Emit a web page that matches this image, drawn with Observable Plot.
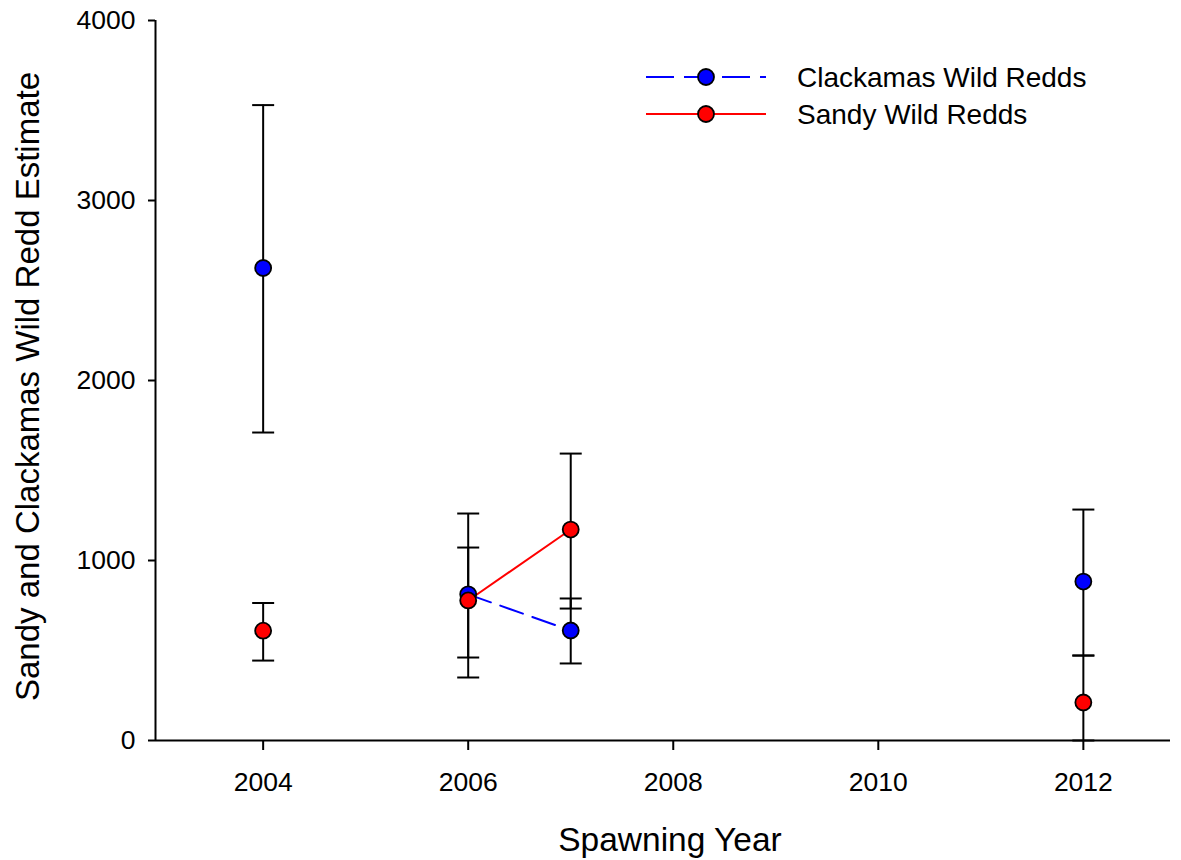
<!DOCTYPE html>
<html>
<head>
<meta charset="utf-8">
<script src="https://cdn.jsdelivr.net/npm/d3@7"></script>
<script src="https://cdn.jsdelivr.net/npm/@observablehq/plot@0.6"></script>
<style>
  html, body { margin: 0; padding: 0; background: white; }
</style>
</head>
<body>
<div id="chart"></div>
<script>
// ---- data ----
const years = [2004, 2005, 2006, 2007, 2008, 2009, 2010, 2011, 2012];
const clackamas     = [2625, null, 812, 611, null, null, null, null, 883];
const clackamasLow  = [1711, null, 350, 428, null, null, null, null, 472];
const clackamasHigh = [3530, null, 1261, 789, null, null, null, null, 1283];
const sandy         = [610, null, 778, 1172, null, null, null, null, 211];
const sandyLow      = [444, null, 461, 733, null, null, null, null, 0];
const sandyHigh     = [764, null, 1072, 1594, null, null, null, null, 472];

const seriesNames = ["Clackamas Wild Redds", "Sandy Wild Redds"];
const seriesColors = ["#0000ff", "#ff0000"];
const xTicks = [2004, 2006, 2008, 2010, 2012];
const yTicks = [0, 1000, 2000, 3000, 4000];
const xDomain = [2002.95, 2012.85];
const yDomain = [0, 4000];
const xTitle = "Spawning Year";
const yTitle = "Sandy and Clackamas Wild Redd Estimate";

function rows(vals, lows, highs, name) {
  return years.map((yr, i) => ({year: yr, value: vals[i], low: lows[i], high: highs[i], series: name}));
}
const cRows = rows(clackamas, clackamasLow, clackamasHigh, seriesNames[0]);
const sRows = rows(sandy, sandyLow, sandyHigh, seriesNames[1]);
const allRows = cRows.concat(sRows).filter(d => d.value != null);

// horizontal cap symbol for error bars
const capSymbol = {
  draw(context, size) {
    const r = Math.sqrt(size / Math.PI);
    context.moveTo(-r, 0);
    context.lineTo(r, 0);
  }
};

const font = "Arial, 'Liberation Sans', Helvetica, sans-serif";

const svg = Plot.plot({
  width: 1181,
  height: 860,
  marginLeft: 155,
  marginRight: 11,
  marginTop: 20,
  marginBottom: 120,
  style: {fontFamily: font, fontSize: "26.5px", color: "black", background: "white", overflow: "visible"},
  x: {domain: xDomain, label: null},
  y: {domain: yDomain, label: null},
  marks: [
    Plot.axisY({ticks: yTicks, tickSize: 7, tickPadding: 13, tickFormat: d => String(d), label: null, strokeWidth: 2, fontSize: 26.5}),
    Plot.axisX({ticks: xTicks, tickSize: 10, tickPadding: 22, tickFormat: d => String(d), label: null, strokeWidth: 2, fontSize: 26.5}),
    Plot.ruleY([yDomain[0]], {stroke: "black", strokeWidth: 2}),
    Plot.ruleX([xDomain[0]], {stroke: "black", strokeWidth: 2}),
    // error bars
    Plot.ruleX(allRows, {x: "year", y1: "low", y2: "high", stroke: "black", strokeWidth: 2}),
    Plot.dot(allRows, {x: "year", y: "low", symbol: capSymbol, r: 11, stroke: "black", fill: "none", strokeWidth: 2}),
    Plot.dot(allRows, {x: "year", y: "high", symbol: capSymbol, r: 11, stroke: "black", fill: "none", strokeWidth: 2}),
    // lines
    Plot.line(cRows, {x: "year", y: "value", stroke: seriesColors[0], strokeWidth: 2, strokeDasharray: "24,10"}),
    Plot.line(sRows, {x: "year", y: "value", stroke: seriesColors[1], strokeWidth: 2}),
    // points
    Plot.dot(cRows.filter(d => d.value != null), {x: "year", y: "value", r: 8, fill: seriesColors[0], stroke: "black", strokeWidth: 1.8}),
    Plot.dot(sRows.filter(d => d.value != null), {x: "year", y: "value", r: 8, fill: seriesColors[1], stroke: "black", strokeWidth: 1.8}),
    // axis titles
    Plot.text([xTitle], {frameAnchor: "bottom", dy: 100, dx: 7, fontSize: 33.5, lineAnchor: "middle", textAnchor: "middle", fill: "black"}),
    Plot.text([yTitle], {frameAnchor: "left", dx: -127, dy: 6, rotate: -90, fontSize: 33, lineAnchor: "middle", textAnchor: "middle", fill: "black"})
  ]
});

document.getElementById("chart").appendChild(svg);

// legend inside the plot area
const sel = d3.select(svg);
const leg = sel.append("g").attr("font-family", font).attr("font-size", 28).attr("text-anchor", "start");
const legendItems = [
  {name: seriesNames[0], color: seriesColors[0], dash: "28,10", y: 77},
  {name: seriesNames[1], color: seriesColors[1], dash: null, y: 114}
];
legendItems.forEach(it => {
  leg.append("line")
    .attr("x1", 646).attr("x2", 766).attr("y1", it.y).attr("y2", it.y)
    .attr("stroke", it.color).attr("stroke-width", 2)
    .attr("stroke-dasharray", it.dash);
  leg.append("circle")
    .attr("cx", 706).attr("cy", it.y).attr("r", 8)
    .attr("fill", it.color).attr("stroke", "black").attr("stroke-width", 1.8);
  leg.append("text")
    .attr("x", 797).attr("y", it.y).attr("dy", "0.35em")
    .attr("text-anchor", "start")
    .attr("fill", "black").text(it.name);
});
</script>
</body>
</html>
